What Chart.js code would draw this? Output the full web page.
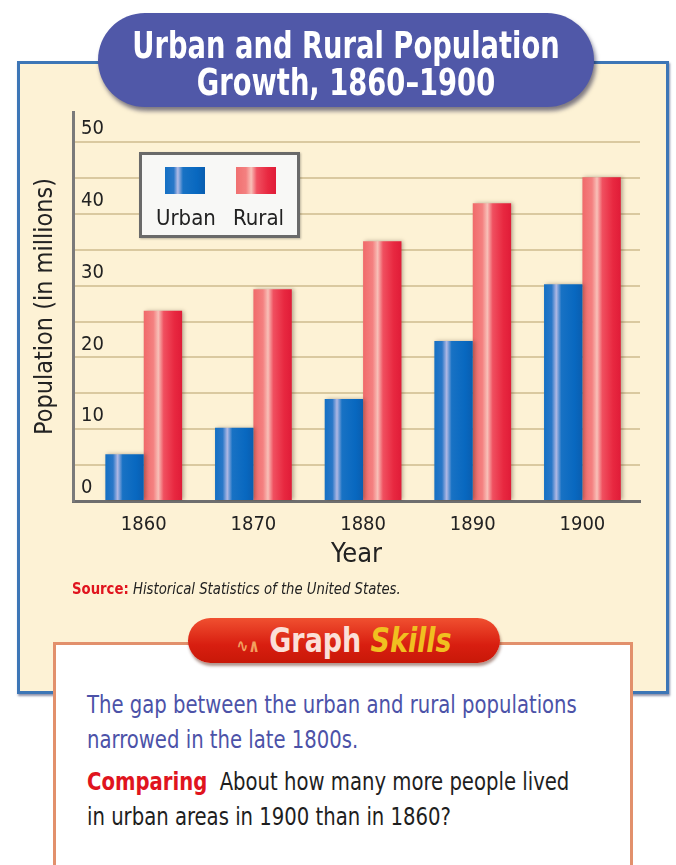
<!DOCTYPE html>
<html>
<head>
<meta charset="utf-8">
<script src="https://cdn.jsdelivr.net/npm/chart.js@4/dist/chart.umd.min.js"></script>
<style>
  html, body { margin: 0; padding: 0; background: #ffffff; }
  body { width: 676px; height: 865px; position: relative; overflow: hidden;
         font-family: 'Liberation Sans Narrow', 'DejaVu Sans Condensed', 'Liberation Sans', sans-serif; }
  #panel { position: absolute; left: 17px; top: 61px; width: 646px; height: 627px;
           background: #fdf2d5; border: 3px solid #3d76b6; box-shadow: 1px 2px 2px rgba(30,40,90,0.5); }
  #chartWrap { position: absolute; left: 0; top: 0; width: 676px; height: 600px; }
  #titlePill { position: absolute; left: 98px; top: 13px; width: 496px; height: 94px;
               border-radius: 47px; background: #5058a8; box-shadow: 2px 4px 4px rgba(20,20,60,0.55); }
  .tl { position: absolute; left: -100px; width: 696px; text-align: center; color: #fff; font-weight: bold;
        font-size: 38px; line-height: 38px; white-space: nowrap; transform: scaleX(0.8); }
  #legendBox { position: absolute; left: 139px; top: 152px; width: 155px; height: 80px;
               background: #f8f8f6; border: 3px solid #6a6a6a; box-shadow: 1px 1px 2px rgba(0,0,0,0.25); }
  .sw { position: absolute; top: 12px; width: 40px; height: 27px; }
  .lg { position: absolute; top: 50px; font-size: 22px; color: #222; }
  #source { position: absolute; left: 72px; top: 579px; font-size: 16px; color: #222; white-space: nowrap;
            transform: scaleX(0.92); transform-origin: left center; }
  #source b { color: #e0141e; }
  #source i { font-style: italic; }
  #skillsBox { position: absolute; left: 53px; top: 642px; width: 574px; height: 260px;
               background: #fff; border: 3px solid #e2906c; }
  #skillsPill { position: absolute; left: 188px; top: 618px; width: 312px; height: 45px;
                border-radius: 23px; background: linear-gradient(#f05030, #d81e10 60%, #c81808);
                box-shadow: 1px 3px 3px rgba(80,20,0,0.45); }
  #skillsTxt { position: absolute; left: 0; top: 0; width: 312px; text-align: center; font-size: 34px;
               font-weight: bold; line-height: 45px; color: #fbe0d8; white-space: nowrap; transform: scaleX(0.88); }
  #skillsTxt span { color: #f0c020; font-style: italic; }
  .txt { position: absolute; left: 87px; font-size: 24px; line-height: 35px; white-space: nowrap;
         transform: scaleX(0.91); transform-origin: left top; }
  #t1 { top: 688px; color: #4c52a8; }
  #t2 { top: 765px; color: #1e1e1e; }
  #t2 b { color: #e0141e; }
</style>
</head>
<body>
<div id="panel"></div>
<div id="skillsBox"></div>
<div id="skillsPill"><div id="skillsTxt"><span style="color:#f2a060;font-size:18px;font-style:normal;">&#x223F;&#x2227;</span> Graph <span>Skills</span></div></div>
<div class="txt" id="t1">The gap between the urban and rural populations<br>narrowed in the late 1800s.</div>
<div class="txt" id="t2"><b>Comparing</b>&nbsp; About how many more people lived<br>in urban areas in 1900 than in 1860?</div>
<div id="chartWrap"><canvas id="c" width="676" height="600"></canvas></div>
<div id="titlePill">
  <div class="tl" style="top:13px;">Urban and Rural Population</div>
  <div class="tl" style="top:50px;">Growth, 1860–1900</div>
</div>
<div id="legendBox">
  <div class="sw" style="left:23px;background:linear-gradient(90deg,#1470c4 0%,#2a78c8 22%,#b4bce6 32%,#1872c4 45%,#0868c0 80%,#0a5eb0 100%);"></div>
  <div class="sw" style="left:94px;background:linear-gradient(90deg,#f07070 0%,#f48080 25%,#f8c0b8 38%,#f05060 52%,#e82840 80%,#e01c38 100%);"></div>
  <div class="lg" style="left:14px;">Urban</div>
  <div class="lg" style="left:91px;">Rural</div>
</div>
<div id="source"><b>Source:</b> <i>Historical Statistics of the United States.</i></div>

<script>
const years = ['1860', '1870', '1880', '1890', '1900'];
const urbanValues = [6.5, 10.2, 14.2, 22.3, 30.2];
const ruralValues = [26.5, 29.5, 36.2, 41.5, 45.1];
const yTickValues = [0, 10, 20, 30, 40, 50];

const FONT = "'Liberation Sans Narrow', 'DejaVu Sans Condensed', 'Liberation Sans', sans-serif";

function barGradient(kind) {
  return function(ctx) {
    const chart = ctx.chart;
    const xs = chart.scales && chart.scales.x;
    if (!xs || !chart.chartArea || ctx.dataIndex === undefined) {
      return kind === 'u' ? '#0a6ac0' : '#ec3048';
    }
    const p0 = xs.getPixelForValue(0), p1 = xs.getPixelForValue(1);
    const w = (p1 - p0) * 0.7 / 2;
    const c = xs.getPixelForValue(ctx.dataIndex);
    const left = kind === 'u' ? c - w : c;
    const g = chart.ctx.createLinearGradient(left, 0, left + w, 0);
    if (kind === 'u') {
      g.addColorStop(0, '#1470c4');
      g.addColorStop(0.2, '#2a78c8');
      g.addColorStop(0.32, '#b0b8e4');
      g.addColorStop(0.45, '#1872c4');
      g.addColorStop(0.8, '#0868c0');
      g.addColorStop(1, '#0a5eb0');
    } else {
      g.addColorStop(0, '#f06a6a');
      g.addColorStop(0.25, '#f48080');
      g.addColorStop(0.38, '#f8c0b8');
      g.addColorStop(0.52, '#f05060');
      g.addColorStop(0.8, '#e82840');
      g.addColorStop(1, '#e01c38');
    }
    return g;
  };
}

const shadowPlugin = {
  id: 'barShadow',
  beforeDatasetsDraw(chart) {
    const c = chart.ctx;
    c.save();
    c.shadowColor = 'rgba(60,40,20,0.35)';
    c.shadowBlur = 4;
    c.shadowOffsetX = 2;
    c.shadowOffsetY = 0;
  },
  afterDatasetsDraw(chart) {
    chart.ctx.restore();
  }
};

new Chart(document.getElementById('c'), {
  type: 'bar',
  data: {
    datasets: [
      { label: 'Urban', data: urbanValues.map((v, i) => ({ x: i, y: v })),
        backgroundColor: barGradient('u'), borderWidth: 0 },
      { label: 'Rural', data: ruralValues.map((v, i) => ({ x: i, y: v })),
        backgroundColor: barGradient('r'), borderWidth: 0 }
    ]
  },
  options: {
    responsive: false,
    animation: false,
    devicePixelRatio: 1,
    categoryPercentage: 0.7,
    barPercentage: 1.0,
    layout: { padding: { left: 30, top: 112, right: 36, bottom: 29 } },
    plugins: { legend: { display: false }, tooltip: { enabled: false } },
    scales: {
      x: {
        type: 'linear',
        offset: false,
        min: -0.645,
        max: 4.525,
        afterFit: s => { s.height = 70; },
        grid: { display: false, drawTicks: false, offset: false },
        border: { display: true, color: '#6e6e6e', width: 3 },
        ticks: {
          stepSize: 1,
          includeBounds: false,
          padding: 12,
          maxRotation: 0,
          autoSkip: false,
          color: '#222',
          font: { family: FONT, size: 20 },
          callback: v => (Number.isInteger(v) && years[v] !== undefined) ? years[v] : ''
        },
        title: { display: true, text: 'Year', color: '#222', padding: { top: 0, bottom: 0 },
                 font: { family: FONT, size: 27 } }
      },
      y: {
        min: 0,
        max: 54.2,
        afterFit: s => { s.width = 43; },
        grid: { color: 'rgba(175,150,95,0.45)', lineWidth: 2, drawTicks: false },
        border: { display: true, color: '#7a7a7a', width: 3 },
        ticks: {
          stepSize: 5,
          includeBounds: false,
          mirror: true,
          padding: 8,
          labelOffset: -13,
          color: '#222',
          font: { family: FONT, size: 20 },
          callback: v => yTickValues.includes(v) ? String(v) : ''
        },
        title: { display: true, text: 'Population (in millions)', color: '#222',
                 padding: { top: 0, bottom: 0 }, font: { family: FONT, size: 25 } }
      }
    }
  },
  plugins: [shadowPlugin]
});
</script>
</body>
</html>
